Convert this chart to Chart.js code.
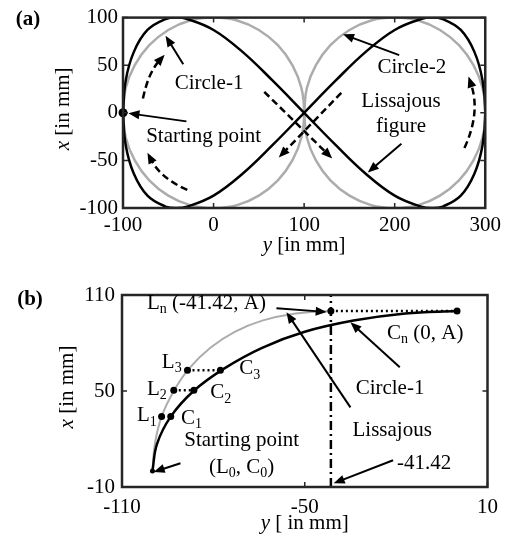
<!DOCTYPE html>
<html lang="en">
<head>
  <meta charset="UTF-8" />
  <title>Lissajous path vs circles</title>
  <script src="https://cdn.jsdelivr.net/npm/chart.js"></script>
  <style>
    body { margin: 0; background: #fff; }
    .panel { position: absolute; left: 0; width: 506px; height: 270px; }
    #panelA { top: 0; }
    #panelB { top: 270px; }
  </style>
</head>
<body>
  <div class="panel" id="panelA"><canvas id="chartA" width="506" height="270"></canvas></div>
  <div class="panel" id="panelB"><canvas id="chartB" width="506" height="270"></canvas></div>

  <script>
    // points are [y, x] in mm (y runs along the horizontal axis)
    const circle1 = [
      [-100, 0], [-97, 26], [-87, 50], [-71, 71], [-50, 87], [-26, 97], [0, 100],
      [26, 97], [50, 87], [71, 71], [87, 50], [97, 26], [100, 0],
      [97, -26], [87, -50], [71, -71], [50, -87], [26, -97], [0, -100],
      [-26, -97], [-50, -87], [-71, -71], [-87, -50], [-97, -26], [-100, 0]
    ];
    const circle2 = [
      [100, 0], [103, 26], [113, 50], [129, 71], [150, 87], [174, 97], [200, 100],
      [226, 97], [250, 87], [271, 71], [287, 50], [297, 26], [300, 0],
      [297, -26], [287, -50], [271, -71], [250, -87], [226, -97], [200, -100],
      [174, -97], [150, -87], [129, -71], [113, -50], [103, -26], [100, 0]
    ];
    const lissajous = [
      [-100, 0], [-97, 34], [-88, 64], [-73, 87], [-53, 98.5], [-41.4, 100], [-29, 98.5],
      [0, 87], [32, 64], [65, 34], [100, 0], [135, -34], [168, -64], [200, -87],
      [229, -98.5], [241.4, -100], [253, -98.5], [273, -87], [288, -64], [297, -34],
      [300, 0], [297, 34], [288, 64], [273, 87], [253, 98.5], [241.4, 100], [229, 98.5],
      [200, 87], [168, 64], [135, 34], [100, 0], [65, -34], [32, -64], [0, -87],
      [-29, -98.5], [-41.4, -100], [-53, -98.5], [-73, -87], [-88, -64], [-97, -34], [-100, 0]
    ];
    const startPoint = [-100, 0];

    // close-up of the first quarter
    const circleQuarter = [
      [-100, 0], [-98.5, 17], [-94, 34], [-86.5, 50], [-76.5, 64], [-64, 77],
      [-50, 87], [-34, 94], [-17, 98.5], [0, 100]
    ];
    const lissajousQuarter = [
      [-100, 0], [-99.2, 17], [-97, 34], [-93, 50], [-88, 64], [-81, 77],
      [-73, 87], [-64, 94], [-53, 98.5], [-41.42, 100]
    ];
    const lissajousMarks = [[-97, 34], [-93, 50.4], [-88.5, 63], [-41.42, 100]];
    const circleMarks = [[-94, 34], [-86.4, 50.4], [-77.7, 63], [0, 100]];
    const crossLine = [[-41.42, -10], [-41.42, 110]];

    const xTicksA = [-100, 0, 100, 200, 300];
    const yTicksA = [-100, -50, 0, 50, 100];
    const xTicksB = [-110, -50, 10];
    const yTicksB = [-10, 50, 110];

    const SERIF = '"Liberation Serif", "Times New Roman", serif';
    const GRAY = '#acacac';
    const FS = 21;

    const toPts = arr => arr.map(p => ({ x: p[0], y: p[1] }));

    function richText(ctx, parts, x, y, align, size) {
      size = size || FS;
      const fontFor = k => (k === 'i' ? 'italic ' : k === 'b' ? 'bold ' : '') +
        (k === 's' ? Math.round(size * 0.68) : size) + 'px ' + SERIF;
      let w = 0;
      parts.forEach(([t, k]) => { ctx.font = fontFor(k); w += ctx.measureText(t).width; });
      let cx = align === 'center' ? x - w / 2 : align === 'right' ? x - w : x;
      ctx.textAlign = 'left';
      ctx.textBaseline = 'middle';
      ctx.fillStyle = '#000';
      parts.forEach(([t, k]) => {
        ctx.font = fontFor(k);
        ctx.fillText(t, cx, k === 's' ? y + size * 0.3 : y);
        cx += ctx.measureText(t).width;
      });
    }

    function head(ctx, x, y, ang) {
      const len = 11, half = 4.5;
      const c = Math.cos(ang), s = Math.sin(ang);
      ctx.beginPath();
      ctx.moveTo(x, y);
      ctx.lineTo(x - len * c + half * s, y - len * s - half * c);
      ctx.lineTo(x - len * c - half * s, y - len * s + half * c);
      ctx.closePath();
      ctx.fill();
    }

    // arrow in data coords; optional control point makes it a curved arrow
    function arrow(chart, from, to, opts) {
      opts = opts || {};
      const { ctx, scales: { x, y } } = chart;
      const p = v => [x.getPixelForValue(v[0]), y.getPixelForValue(v[1])];
      const a = p(from), b = p(to);
      const c = opts.via ? p(opts.via) : a;
      const ang = Math.atan2(b[1] - c[1], b[0] - c[0]);
      const e = [b[0] - 8 * Math.cos(ang), b[1] - 8 * Math.sin(ang)];
      ctx.save();
      ctx.strokeStyle = '#000';
      ctx.fillStyle = '#000';
      ctx.lineWidth = opts.dash ? 2.5 : 2;
      ctx.setLineDash(opts.dash ? [7, 4] : []);
      ctx.beginPath();
      ctx.moveTo(a[0], a[1]);
      if (opts.via) ctx.quadraticCurveTo(c[0], c[1], e[0], e[1]);
      else ctx.lineTo(e[0], e[1]);
      ctx.stroke();
      ctx.setLineDash([]);
      head(ctx, b[0], b[1], ang);
      ctx.restore();
    }

    function label(chart, parts, at, align) {
      const { x, y } = chart.scales;
      richText(chart.ctx, parts, x.getPixelForValue(at[0]), y.getPixelForValue(at[1]), align);
    }

    function boxPlugin(xTicks, yTicks) {
      return {
        id: 'box',
        afterDatasetsDraw(chart) {
          const { ctx, chartArea: a, scales: { x, y } } = chart;
          ctx.save();
          ctx.strokeStyle = '#262626';
          ctx.lineWidth = 1.5;
          ctx.beginPath();
          xTicks.forEach(v => {
            const px = x.getPixelForValue(v);
            ctx.moveTo(px, a.bottom); ctx.lineTo(px, a.bottom - 5);
            ctx.moveTo(px, a.top); ctx.lineTo(px, a.top + 5);
          });
          yTicks.forEach(v => {
            const py = y.getPixelForValue(v);
            ctx.moveTo(a.left, py); ctx.lineTo(a.left + 5, py);
            ctx.moveTo(a.right, py); ctx.lineTo(a.right - 5, py);
          });
          ctx.stroke();
          ctx.lineWidth = 2.5;
          ctx.strokeRect(a.left, a.top, a.right - a.left, a.bottom - a.top);
          ctx.restore();
        }
      };
    }

    function axisTitles(xPos, yPos, xParts, yParts) {
      return {
        id: 'titles',
        afterDraw(chart) {
          const { ctx, chartArea: a } = chart;
          ctx.save();
          ctx.translate(xPos, (a.top + a.bottom) / 2 - 4);
          ctx.rotate(-Math.PI / 2);
          richText(ctx, xParts, 0, 0, 'center');
          ctx.restore();
          richText(ctx, yParts, (a.left + a.right) / 2, yPos, 'center');
        }
      };
    }

    function scaleOpts(min, max, ticks, size, pad) {
      return {
        type: 'linear', min, max,
        afterBuildTicks: s => { s.ticks = ticks.map(v => ({ value: v })); },
        afterFit: s => { if (s.isHorizontal()) s.height = size; else s.width = size; },
        grid: { display: false, drawTicks: false },
        border: { display: false },
        ticks: { color: '#000', font: { family: SERIF, size: FS }, padding: pad, maxRotation: 0, autoSkip: false }
      };
    }

    const line = (data, color, width, extra) => Object.assign({
      data: toPts(data), showLine: true, borderColor: color, borderWidth: width,
      pointRadius: 0, tension: 0.4, fill: false
    }, extra || {});

    const dots = (data, r) => ({
      data: toPts(data), pointRadius: r, backgroundColor: '#000', borderWidth: 0, clip: false
    });

    // (a) full Lissajous figure over both circles
    const notesA = {
      id: 'notesA',
      afterDraw(chart) {
        const ctx = chart.ctx;
        richText(ctx, [['(a)', 'b']], 28, 20, 'center');
        label(chart, [['Circle-1', '']], [-5, 31], 'center');
        label(chart, [['Starting point', '']], [-11, -25], 'center');
        label(chart, [['Circle-2', '']], [219, 48], 'center');
        label(chart, [['Lissajous', '']], [207, 12], 'center');
        label(chart, [['figure', '']], [207, -14], 'center');
        arrow(chart, [-33.5, 51], [-53, 81]);
        arrow(chart, [-30, -9], [-94, -0.5]);
        arrow(chart, [205, 60.6], [143, 82.4]);
        arrow(chart, [207.4, -32.6], [170.3, -62.7]);
        arrow(chart, [56, 22], [131, -48], { dash: true });
        arrow(chart, [141, 21], [72, -47], { dash: true });
        arrow(chart, [-78, 15], [-54, 61], { dash: true, via: [-72, 42] });
        arrow(chart, [-29, -81], [-73, -42], { dash: true, via: [-58, -69] });
        arrow(chart, [277, -37], [281.5, 38], { dash: true, via: [295, 0] });
      }
    };

    new Chart(document.getElementById('chartA'), {
      type: 'scatter',
      data: {
        datasets: [
          dots([startPoint], 4.5),
          line(lissajous, '#000', 2.5),
          line(circle1, GRAY, 2.5),
          line(circle2, GRAY, 2.5)
        ]
      },
      options: {
        responsive: false,
        animation: false,
        layout: { padding: { left: 0, right: 16, top: 15, bottom: 0 } },
        plugins: { legend: { display: false }, tooltip: { enabled: false } },
        scales: {
          x: scaleOpts(-100, 300, xTicksA, 62, 5),
          y: scaleOpts(-100, 100, yTicksA, 123, 5)
        }
      },
      plugins: [boxPlugin(xTicksA, yTicksA),
        axisTitles(63, 245, [['x', 'i'], [' [in mm]', '']], [['y', 'i'], [' [in mm]', '']]),
        notesA]
    });

    // (b) zoom on the first quarter, Lissajous vs circle
    const notesB = {
      id: 'notesB',
      afterDraw(chart) {
        const ctx = chart.ctx;
        richText(ctx, [['(b)', 'b']], 30, 30, 'center');
        label(chart, [['L', ''], ['n', 's'], [' (-41.42, A)', '']], [-101.8, 104.8], 'left');
        label(chart, [['C', ''], ['n', 's'], [' (0, A)', '']], [-23, 86], 'left');
        label(chart, [['Circle-1', '']], [-22, 51.7], 'center');
        label(chart, [['Lissajous', '']], [-21.3, 25.4], 'center');
        label(chart, [['-41.42', '']], [-19.7, 4.8], 'left');
        label(chart, [['Starting point', '']], [-70.7, 19.2], 'center');
        label(chart, [['(L', ''], ['0', 's'], [', C', ''], ['0', 's'], [')', '']], [-70.7, 2.3], 'center');
        label(chart, [['L', ''], ['3', 's']], [-90.4, 68], 'right');
        label(chart, [['L', ''], ['2', 's']], [-95.3, 51], 'right');
        label(chart, [['L', ''], ['1', 's']], [-98.6, 34.5], 'right');
        label(chart, [['C', ''], ['1', 's']], [-90.6, 33], 'left');
        label(chart, [['C', ''], ['2', 's']], [-81, 49], 'left');
        label(chart, [['C', ''], ['3', 's']], [-71.5, 64], 'left');
        arrow(chart, [-59.3, 101.7], [-42.8, 99.4]);
        arrow(chart, [-18.8, 64.8], [-35, 92.9]);
        arrow(chart, [-35, 39.8], [-56, 99.2]);
        arrow(chart, [-21, 6.7], [-40.5, -7.7]);
        arrow(chart, [-90.8, 4.8], [-99.6, -0.6]);
      }
    };

    const dotted = (a, b) => line([a, b], '#000', 2.5, { borderDash: [2, 3], tension: 0 });

    new Chart(document.getElementById('chartB'), {
      type: 'scatter',
      data: {
        datasets: [
          dots(lissajousMarks.concat(circleMarks), 3.5),
          dots([startPoint], 2.5),
          dotted(lissajousMarks[1], circleMarks[1]),
          dotted(lissajousMarks[2], circleMarks[2]),
          dotted(lissajousMarks[3], circleMarks[3]),
          line(crossLine, '#000', 2.5, { borderDash: [9, 4, 2, 4], tension: 0 }),
          line(circleQuarter, '#000', 2.5),
          line(lissajousQuarter, GRAY, 2)
        ]
      },
      options: {
        responsive: false,
        animation: false,
        layout: { padding: { left: 0, right: 15, top: 25, bottom: 0 } },
        plugins: { legend: { display: false }, tooltip: { enabled: false } },
        scales: {
          x: scaleOpts(-110, 10, xTicksB, 53, 8),
          y: scaleOpts(-10, 110, yTicksB, 122, 7)
        }
      },
      plugins: [boxPlugin(xTicksB, yTicksB),
        axisTitles(67, 253, [['x', 'i'], [' [in mm]', '']], [['y', 'i'], [' [ in mm]', '']]),
        notesB]
    });
  </script>
</body>
</html>
